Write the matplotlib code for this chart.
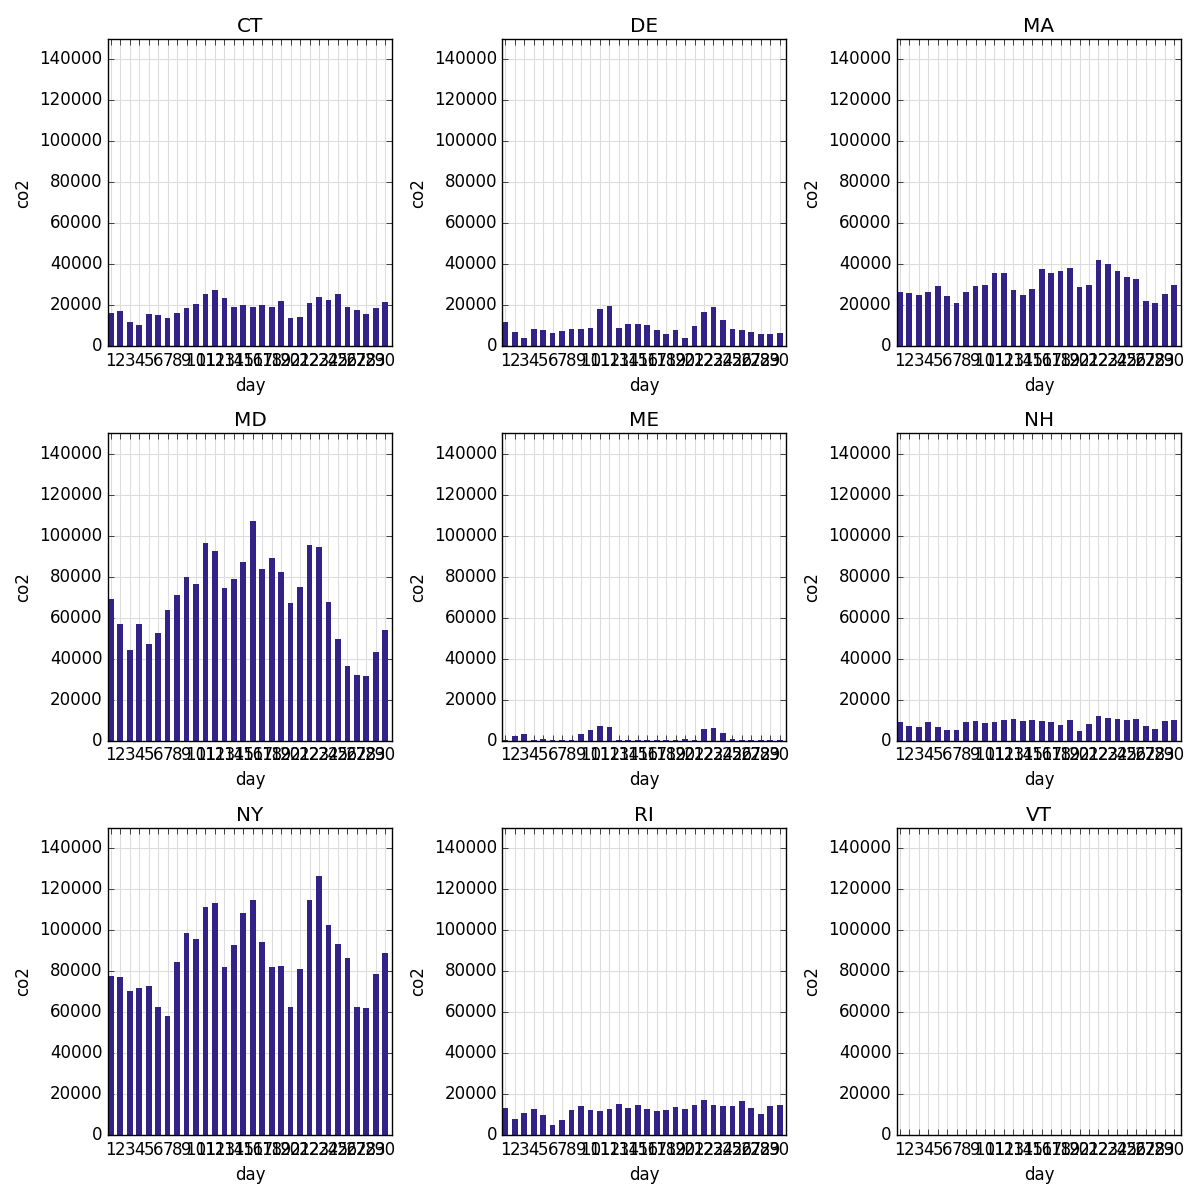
import numpy as np
import matplotlib
matplotlib.use('Agg')
import matplotlib.pyplot as plt

plt.style.use('classic')

days = list(range(1, 31))
states = ['CT', 'DE', 'MA', 'MD', 'ME', 'NH', 'NY', 'RI', 'VT']

ct = [16300, 17300, 11900, 10450, 15850, 15350, 13900, 16300, 18800, 20750,
      25650, 27600, 23700, 19300, 20250, 19300, 20250, 19300, 22200, 13900,
      14400, 21200, 24200, 22700, 25650, 19300, 17800, 15850, 18800, 21700]
de = [12000, 7050, 4100, 8500, 8000, 6600, 7550, 8500, 8500, 9000,
      18350, 19850, 9000, 11000, 11000, 10500, 8000, 6050, 8000, 4100,
      10000, 16900, 19350, 12950, 8500, 8000, 7050, 6050, 6050, 6600]
ma = [26700, 26200, 25250, 26700, 29700, 24750, 21300, 26700, 29700, 30150,
      35600, 35600, 27700, 25250, 28200, 37550, 35600, 36550, 38050, 29200,
      30150, 41950, 40000, 36550, 34100, 33100, 22300, 21300, 25750, 30150]
md = [69100, 56800, 44100, 56800, 47000, 52400, 63700, 71000, 79900, 76400,
      96500, 92600, 74500, 78900, 87200, 107300, 83800, 89200, 82300, 67100,
      75000, 95500, 94600, 67600, 49500, 36300, 32300, 31850, 43100, 53900]
me = [500, 2450, 3450, 300, 1000, 300, 300, 300, 3450, 5400,
      7400, 6900, 300, 300, 300, 300, 300, 300, 300, 1000,
      300, 5900, 6400, 3900, 1000, 300, 300, 300, 300, 300]
nh = [9350, 7400, 6900, 9350, 6900, 5400, 5400, 9350, 9850, 8850,
      9350, 10300, 10800, 9850, 10300, 9850, 9350, 7900, 10300, 4900,
      8350, 12300, 11300, 10800, 10300, 10800, 7400, 5900, 9850, 10300]
ny = [77700, 77200, 70400, 71800, 72800, 62500, 58200, 84500, 98700, 95800,
      111400, 113400, 82100, 92900, 108500, 114800, 94300, 82100, 82600, 62500,
      81100, 114800, 126600, 102600, 93300, 86500, 62500, 62100, 78700, 88900]
ri = [13300, 7900, 10800, 12800, 9800, 4900, 7400, 12300, 14300, 12300,
      11800, 12800, 15200, 13300, 14800, 12800, 11800, 12300, 13800, 12800,
      14800, 17200, 14800, 14300, 14300, 16700, 13300, 10300, 14300, 14800]
vt = [0] * 30

series = [ct, de, ma, md, me, nh, ny, ri, vt]

fig, axes = plt.subplots(3, 3, figsize=(12, 12), dpi=100)
fig.patch.set_facecolor('white')
plt.subplots_adjust(left=0.09, right=0.984, top=0.9675, bottom=0.054,
                    wspace=0.39, hspace=0.283)

pos = np.arange(len(days))
for ax, name, vals in zip(axes.flat, states, series):
    ax.bar(pos, vals, width=0.6, align='center', color='#332288', edgecolor='none')
    ax.set_xlim(-0.3, 29.7)
    ax.set_ylim(0, 150000)
    ax.set_yticks(range(0, 150000, 20000))
    ax.set_xticks(pos)
    ax.set_xticklabels([str(d) for d in days])
    ax.grid(True, color='#dddddd', linestyle='-', linewidth=0.8)
    ax.set_axisbelow(True)
    ax.set_title(name)
    ax.set_xlabel('day')
    ax.set_ylabel('co2')

plt.savefig('out.png', dpi=100, facecolor='white')
